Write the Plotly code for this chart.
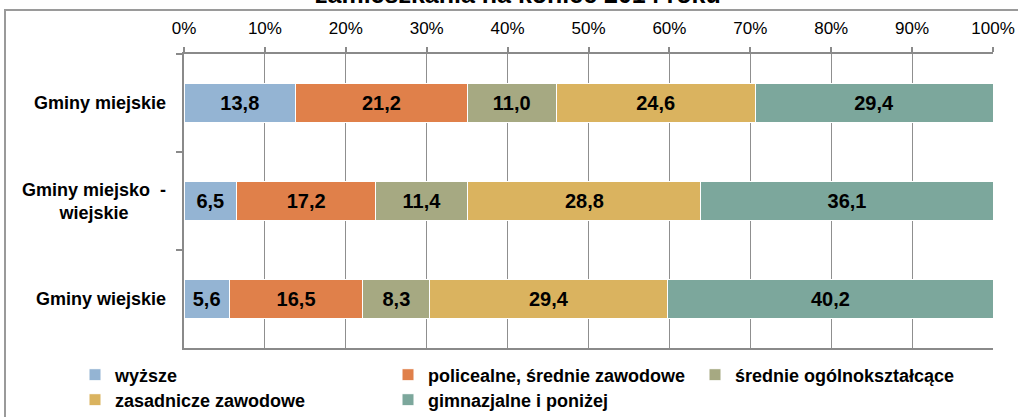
import plotly.graph_objects as go

# ---- data ----
categories = ["Gminy miejskie", "Gminy miejsko - wiejskie", "Gminy wiejskie"]
category_labels = ["Gminy miejskie", "Gminy miejsko  -<br>wiejskie", "Gminy wiejskie"]
series_names = ["wyższe", "policealne, średnie zawodowe", "średnie ogólnokształcące",
                "zasadnicze zawodowe", "gimnazjalne i poniżej"]
wyzsze = [13.8, 6.5, 5.6]
policealne = [21.2, 17.2, 16.5]
srednie_ogolnoksztalcace = [11.0, 11.4, 8.3]
zasadnicze_zawodowe = [24.6, 28.8, 29.4]
gimnazjalne = [29.4, 36.1, 40.2]
x_ticks = [0, 10, 20, 30, 40, 50, 60, 70, 80, 90, 100]
x_tick_labels = ["0%", "10%", "20%", "30%", "40%", "50%", "60%", "70%", "80%", "90%", "100%"]
title_text = "zamieszkania na koniec 2014 roku"

series_values = [wyzsze, policealne, srednie_ogolnoksztalcace, zasadnicze_zawodowe, gimnazjalne]
colors = ["#94B4D3", "#E0804A", "#A6A982", "#DAB35F", "#7CA79C"]
legend_keys = ["legend", "legend2", "legend3", "legend4", "legend5"]

FONT = "Liberation Sans, Arial, sans-serif"
W, H = 1018, 417
ML, MR, MT, MB = 184, 25, 54, 69
PW = W - ML - MR
PH = H - MT - MB


def px_x(px):
    return (px - ML) / PW


def px_y(py):
    return (H - MB - py) / PH


fig = go.Figure()
for name, vals, col, lg in zip(series_names, series_values, colors, legend_keys):
    fig.add_trace(go.Bar(
        y=categories, x=vals, name=name, orientation="h",
        marker=dict(color=col, line=dict(color="white", width=1)),
        text=vals, texttemplate="%{x:.1f}", textposition="inside",
        insidetextanchor="middle", textangle=0, constraintext="none",
        textfont=dict(family=FONT, size=20, color="black", weight="bold"),
        legend=lg, hoverinfo="skip",
    ))

# legends placed as in the reference (3 columns, 2 rows)
leg_pos = [(75, 375), (388, 375), (695, 375), (75, 400), (388, 400)]
legend_layout = {}
for lg, (lx, ly) in zip(legend_keys, leg_pos):
    legend_layout[lg] = dict(
        x=px_x(lx), y=px_y(ly), xanchor="left", yanchor="middle",
        bgcolor="rgba(0,0,0,0)", borderwidth=0,
        font=dict(family=FONT, size=18, color="black", weight="bold"),
    )

annotations = []
for cat, lab in zip(categories, category_labels):
    annotations.append(dict(
        x=px_x(168), xref="paper", y=cat, yref="y", xanchor="right", yanchor="middle",
        text=lab, showarrow=False, align="center",
        font=dict(family=FONT, size=18, color="black", weight="bold"),
    ))
annotations.append(dict(
    x=px_x(518), xref="paper", y=px_y(10), yref="paper", xanchor="center", yanchor="bottom",
    text=title_text, showarrow=False,
    font=dict(family=FONT, size=25, color="black", weight="bold"),
))

fig.update_layout(
    width=W, height=H,
    margin=dict(l=ML, r=MR, t=MT, b=MB, pad=0, autoexpand=False),
    paper_bgcolor="white", plot_bgcolor="white",
    barmode="stack", bargap=0.61,
    separators=", ",
    font=dict(family=FONT, color="black"),
    showlegend=True,
    annotations=annotations,
    shapes=[dict(type="rect", xref="paper", yref="paper",
                 x0=px_x(5), x1=px_x(1100), y0=px_y(500), y1=px_y(10),
                 line=dict(color="#9a9a9a", width=2), layer="below")],
    **legend_layout,
)
fig.update_xaxes(
    side="top", range=[0, 100], tickmode="array", tickvals=x_ticks, ticktext=x_tick_labels,
    ticks="outside", ticklen=5, tickcolor="#8a8a8a", tickwidth=1.5,
    showgrid=True, gridcolor="#8f8f8f", gridwidth=1.3,
    showline=True, linecolor="#8a8a8a", linewidth=2, mirror=True,
    zeroline=False, ticklabelstandoff=6,
    tickfont=dict(family=FONT, size=17, color="black"),
)
fig.update_yaxes(
    type="category", categoryorder="array", categoryarray=categories,
    range=[2.5, -0.5], tickson="boundaries", ticks="outside", ticklen=6,
    tickcolor="#8a8a8a", tickwidth=1.5, showticklabels=False,
    showgrid=False, showline=True, linecolor="#8a8a8a", linewidth=2, zeroline=False,
)

fig.write_html("out.html", config={"displayModeBar": False},
               post_script="document.body.style.margin='0';")
